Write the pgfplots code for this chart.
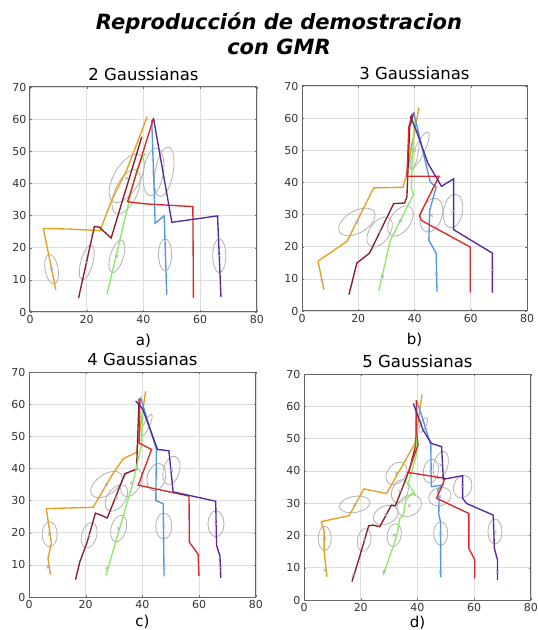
\documentclass[border=0pt]{standalone}
\usepackage{pgfplots}
\pgfplotsset{compat=1.18}
\usepackage{fontspec}
\setmainfont{DejaVu Sans}
\definecolor{cOr}{RGB}{230,160,30}
\definecolor{cMa}{RGB}{135,30,40}
\definecolor{cGr}{RGB}{140,235,100}
\definecolor{cBl}{RGB}{80,150,235}
\definecolor{cRe}{RGB}{220,40,40}
\definecolor{cPu}{RGB}{85,40,160}
\definecolor{cEl}{RGB}{180,180,180}
\definecolor{cMk}{RGB}{165,170,200}
\newcommand{\ELL}[5]{\draw[cEl, line width=0.85pt] (axis cs:#1,#2) ellipse [x radius=#3pt, y radius=#4pt, rotate=#5];}
\pgfplotsset{
  sub/.style={
    scale only axis, anchor=south west,
    xmin=0, xmax=80, ymin=0, ymax=70,
    xtick={0,20,40,60,80}, ytick={0,10,20,30,40,50,60,70},
    grid=major, major grid style={draw=black!13, line width=0.6pt},
    axis line style={draw=black!60, line width=1pt},
    tick style={draw=black!55}, major tick length=2pt,
    tick label style={font=\fontsize{11}{13}\selectfont, text=black!80},
    /pgf/number format/assume math mode=true,
    title style={font=\fontsize{16.5}{18}\selectfont, yshift=-3pt},
    xlabel style={font=\fontsize{15}{17}\selectfont, yshift=-3pt},
    clip=false,
  },
  low/.style={xlabel style={yshift=3.5pt}},
  tr/.style={line width=1.35pt, mark=none},
  ctr/.style={only marks, mark=x, mark size=2pt, cMk, line width=0.6pt},
}
\begin{document}
\begin{tikzpicture}
\useasboundingbox (0,0) rectangle (538pt,630pt);
\node[font=\bfseries\itshape\fontsize{21}{25}\selectfont, align=center] at (279pt,596pt) {Reproducción de demostracion\\con GMR};

% ---------- a) 2 Gaussianas
\begin{axis}[sub, at={(30pt,318pt)}, width=227pt, height=225pt, title={2 Gaussianas}, xlabel={a)}]
\ELL{7.6}{13.3}{15}{6.5}{100}
\ELL{20}{15.4}{18}{6}{75}
\ELL{30.6}{17.3}{17}{6.5}{73}
\ELL{47.6}{17.8}{16}{6.5}{90}
\ELL{66.7}{17.5}{17}{6.5}{90}
\ELL{34.1}{41.6}{27}{13}{60}
\ELL{33.9}{37.4}{24}{11}{65}
\ELL{43.5}{43.6}{24}{10}{82}
\ELL{47.3}{43.6}{25}{9}{80}
\addplot[ctr] coordinates {(7.6,13.3)(20,15.4)(30.6,17.3)(47.6,17.8)(66.7,17.5)(34.1,41.6)(43.5,43.6)};
\addplot[tr, cOr] coordinates {(9.1,6.9)(4.7,26)(14,25.8)(24.7,25.3)(28.8,34.8)(34,44)(41.3,60.7)};
\addplot[tr, cMa] coordinates {(17.1,4.3)(22.7,26.6)(24.4,26.4)(28.6,23)(39.4,54.5)};
\addplot[tr, cGr] coordinates {(27.1,5.4)(33.9,30.7)(37.6,44.2)(40.6,49.4)};
\addplot[tr, cBl] coordinates {(48.2,5.4)(47.3,29.9)(44.1,27.6)(43.8,36.9)(42.9,59.7)};
\addplot[tr, cRe] coordinates {(57.6,4.3)(57.4,32.8)(41.2,33.6)(34.4,34.3)(43.5,60.2)};
\addplot[tr, cPu] coordinates {(67.3,4.7)(66.1,29.9)(50,27.9)(43.5,60.4)};
\end{axis}

% ---------- b) 3 Gaussianas
\begin{axis}[sub, at={(302pt,319pt)}, width=225pt, height=225pt, title={3 Gaussianas}, xlabel={b)}]
\ELL{19.5}{27.7}{20}{11}{30}
\ELL{27.6}{24.6}{17}{10}{55}
\ELL{35}{28}{17}{10}{55}
\ELL{46}{29.8}{17.5}{10.5}{72}
\ELL{53.7}{31.1}{17}{9.5}{80}
\ELL{40}{50}{20}{4}{82}
\ELL{41.8}{50}{20}{5}{65}
\addplot[ctr] coordinates {(19.5,27.7)(27.6,24.6)(35,28)(46,29.8)(53.7,31.1)(40,50)(7.1,9.5)(28.6,10.8)(47.7,11.6)(67.7,12.7)};
\addplot[tr, cOr] coordinates {(7.8,6.6)(5.7,15.5)(16,21.7)(25.5,38.3)(35.9,38.5)(37.1,42.2)(41.6,63.3)};
\addplot[tr, cMa] coordinates {(16.7,5.1)(19.5,14.9)(24,18)(32.6,33.4)(36.5,33.6)(37.3,35.5)(38.3,57.3)(39.8,61.9)};
\addplot[tr, cGr] coordinates {(27.3,6.2)(31.4,22)(39.7,36.3)(38.9,38)(39.2,46.9)(40,59.3)};
\addplot[tr, cBl] coordinates {(48,5.9)(47.7,18)(45.1,22)(45.4,31.3)(47.7,38.6)(45.6,40.1)(39.7,61.9)};
\addplot[tr, cRe] coordinates {(59.8,5.7)(59.8,19.9)(42.4,28.2)(41.8,29.8)(48.7,41.9)(37.3,41.9)(38,57.3)(39.2,61.4)};
\addplot[tr, cPu] coordinates {(67.7,5.7)(67.7,18)(53.9,25.3)(53.9,41.1)(49.6,38.8)(44.8,45.9)(40.6,56.2)(38.5,60.6)};
\end{axis}

% ---------- c) 4 Gaussianas
\begin{axis}[sub, low, at={(29pt,33pt)}, width=227pt, height=225pt, title={4 Gaussianas}, xlabel={c)}]
\ELL{7.3}{19.5}{12.5}{7.5}{90}
\ELL{21.2}{19.2}{13}{7.5}{75}
\ELL{31.6}{21.3}{13.5}{7.5}{75}
\ELL{47.5}{22.1}{13}{8}{90}
\ELL{65.9}{22.8}{13}{8}{90}
\ELL{27.3}{35}{18}{10}{35}
\ELL{30.8}{30.8}{15}{9}{55}
\ELL{36.1}{35.5}{15}{9}{60}
\ELL{44.9}{37.3}{14}{9}{75}
\ELL{50.2}{39.4}{14.5}{8}{75}
\ELL{41.4}{53.4}{12}{3}{65}
\addplot[ctr] coordinates {(7.3,19.5)(21.2,19.2)(31.6,21.3)(47.5,22.1)(65.9,22.8)(27.3,35)(30.8,30.8)(36.1,35.5)(44.9,37.3)(50.2,39.4)(6.7,9.3)(27.5,9)(47.6,9.2)(67.5,9.2)};
\addplot[tr, cOr] coordinates {(7.5,7)(6.7,12.1)(7.9,16.8)(6.1,27.5)(22.6,27.9)(29.6,38.4)(33.2,43)(37.9,45)(41.1,64)};
\addplot[tr, cMa] coordinates {(16.4,5.4)(17.9,10.9)(20.5,17.1)(23.4,26.1)(25.5,25.4)(27.6,24.6)(33.8,38.4)(37.9,39.7)(38.8,61.7)};
\addplot[tr, cGr] coordinates {(27.1,6.7)(36.7,35.8)(39.6,47.2)(40.2,58.6)};
\addplot[tr, cBl] coordinates {(47.6,6.4)(47.3,29)(44.7,30)(44.9,45.9)(39.3,62.2)};
\addplot[tr, cRe] coordinates {(59.9,6.5)(59.6,13.3)(56.5,17.1)(56.4,31.4)(38.5,34.8)(43.2,45.9)(38.8,47.9)(39.1,61.7)};
\addplot[tr, cPu] coordinates {(67.6,5.9)(67.3,12.7)(66.1,16.1)(65.8,29.8)(50.8,32.7)(49.3,45.5)(45.3,45.9)(40,58.6)(37.6,61)};
\end{axis}

% ---------- d) 5 Gaussianas
\begin{axis}[sub, low, at={(304pt,30pt)}, width=227pt, height=226pt, title={5 Gaussianas}, xlabel={d)}, xlabel style={yshift=2pt}]
\ELL{7.3}{19.1}{12}{6.5}{90}
\ELL{21.2}{18.6}{11.5}{6.7}{80}
\ELL{31.8}{20.1}{11.5}{7}{80}
\ELL{48.2}{20.6}{11.7}{7}{90}
\ELL{67.3}{21.2}{12.5}{7}{90}
\ELL{17.9}{29.6}{15.5}{8}{10}
\ELL{28.8}{26.3}{13}{9}{25}
\ELL{37.1}{29.2}{13}{10}{30}
\ELL{33.8}{33.7}{12}{8}{70}
\ELL{32.6}{39.2}{12.5}{9}{50}
\ELL{44.7}{39.9}{12}{7.5}{80}
\ELL{48.2}{41.8}{14}{7}{75}
\ELL{47.9}{32}{11.5}{9}{20}
\ELL{55.9}{35.1}{11.5}{9}{70}
\ELL{42}{54.2}{8}{3}{65}
\addplot[ctr] coordinates {(7.3,19.1)(21.2,18.6)(31.8,20.1)(48.2,20.6)(67.3,21.2)(17.9,29.6)(28.8,26.3)(37.1,29.2)(33.8,33.7)(32.6,39.2)(44.7,39.9)(48.2,41.8)(47.9,32)(55.9,35.1)(7.3,9.3)(17.3,7.7)(28.2,8.8)(48.2,8.8)(68.2,8.8)};
\addplot[tr, cOr] coordinates {(8.1,7.2)(7.1,15)(7.1,21.2)(6.1,24.3)(15.9,26.1)(21.1,34.4)(29.1,33)(39.1,48.5)(41.6,63.7)};
\addplot[tr, cMa] coordinates {(16.9,5.7)(19.6,13.4)(22.8,23)(24.4,23.2)(26.7,22.7)(30.8,29.4)(32.2,29.2)(37.1,40.2)(39.4,48)(39.6,58.8)};
\addplot[tr, cGr] coordinates {(27.9,7.7)(32.6,19.6)(33.8,25.3)(35,26.3)(35.9,31)(37.9,33)(39.1,32.7)(36.7,36.1)(39.6,44.9)(39.6,57.3)};
\addplot[tr, cBl] coordinates {(48.2,7)(48.1,24.3)(47.5,26.5)(47.6,31.5)(47.1,34.1)(48.8,35.6)(44.9,35.1)(44.7,48)(41.4,57.3)(39.6,61.9)};
\addplot[tr, cRe] coordinates {(60.2,6.7)(60.2,12.4)(58.1,16)(58.1,26.8)(46.7,31.5)(48.8,35.6)(49.6,37.7)(36.7,39.5)(40.2,48)(39.6,52.6)(39.6,61.9)};
\addplot[tr, cPu] coordinates {(68.2,6.2)(68.2,12.4)(67.1,16)(66.7,26.3)(57.3,29.9)(55.9,31.5)(55.9,38.5)(49.1,37.4)(48.5,47.5)(44.9,48.5)(42,52.6)(38.5,60.9)};
\end{axis}
\end{tikzpicture}
\end{document}
